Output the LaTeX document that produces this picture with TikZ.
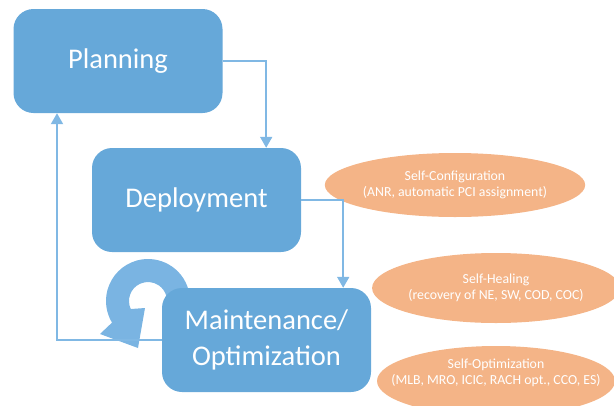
\documentclass[tikz,border=0pt]{standalone}
\usepackage{fontspec}
\setmainfont{Carlito}
\usepackage{tikz}
\usetikzlibrary{shapes.geometric}
\usetikzlibrary{arrows.meta}

\definecolor{boxBlue}{HTML}{66A8D9}
\definecolor{arcBlue}{HTML}{7AB4E2}
\definecolor{lineBlue}{HTML}{80B8E4}
\definecolor{sonOrange}{HTML}{F4B487}

\begin{document}
\begin{tikzpicture}[x=1pt,y=-1pt,
        phaseNode/.style = {fill=boxBlue,text=white,rounded corners=20pt,minimum width=209pt,minimum height=104pt,align=center,font=\fontsize{28.5}{36}\selectfont},
        sonNode/.style = {ellipse,fill=sonOrange,text=white,inner sep=0pt,minimum width=238pt,minimum height=70pt,align=center,font=\fontsize{13.8}{16.5}\selectfont},
        sonText/.style = {text=white,align=center,font=\fontsize{13.8}{16.5}\selectfont},
        flowLine/.style = {draw=lineBlue,line width=2pt,-{Triangle[width=12pt,length=11pt]}}
        ]
        \useasboundingbox (0,0) rectangle (614,405);
        % circular arrow behind the maintenance box
        \coordinate (loopCenter) at (148,301);
        \fill[arcBlue] (loopCenter) ++(-15:42) arc[start angle=15,end angle=211,radius=42pt]
            -- (100,334) -- (138,348) -- (145,308)
            -- ([shift={(-205:19)}]loopCenter) arc[start angle=205,end angle=15,radius=19pt] -- cycle;

        \node[phaseNode] (planning) at (118,61) {Planning};
        \node[phaseNode] (deployment) at (196.5,200) {Deployment};
        \node[phaseNode] (maintenance) at (266.5,340) {Maintenance/\\Optimization};

        \node[sonNode,minimum width=240pt,minimum height=64pt] (selfConfig) at (455,185) {Self-Configuration\\(ANR, automatic PCI assignment)};
        \node[sonNode] (selfHealing) at (496,288) {Self-Healing\\(recovery of NE, SW, COD, COC)};
        \node[sonNode,label={[sonText,yshift=8pt]center:{Self-Optimization\\(MLB, MRO, ICIC, RACH opt., CCO, ES)}}] (selfOpt) at (496,381) {};

        \draw[flowLine] (planning.east) -| ([xshift=-35pt]deployment.north east);
        \draw[flowLine] (deployment.east) -| ([xshift=-28pt]maintenance.north east);
        \draw[flowLine] (maintenance.west) -| ([xshift=-61pt]planning.south);
    \end{tikzpicture}
\end{document}
